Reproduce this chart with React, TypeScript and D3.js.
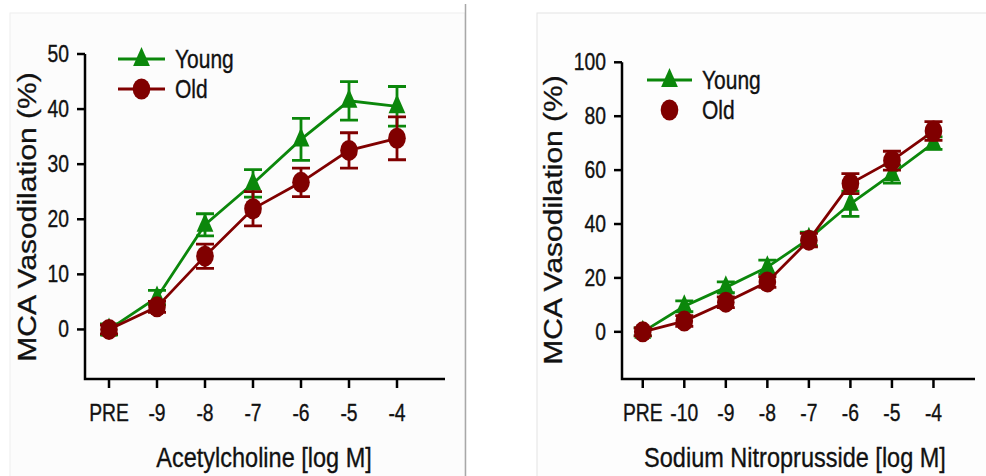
import React, { useEffect, useRef } from 'react';
import * as d3 from 'd3';

// the source figure is squeezed horizontally, so text and markers get this x-scale
const SX = 0.84;
const FONT = '"Liberation Sans", Arial, sans-serif';
const GREEN = '#0b870b';
const RED = '#800000';

// Acetylcholine panel
const achLabels = ['PRE', '-9', '-8', '-7', '-6', '-5', '-4'];
const achYoung = [0, 5.8, 19, 26.5, 34.5, 41.5, 40.5];
const achYoungErr = [1, 1.3, 2, 2.5, 3.8, 3.5, 3.6];
const achOld = [0, 4.1, 13.3, 21.9, 26.7, 32.5, 34.7];
const achOldErr = [0.8, 1, 2.2, 3.1, 2.6, 3.2, 3.9];
const achTicks = [0, 10, 20, 30, 40, 50];

// Sodium nitroprusside panel
const snpLabels = ['PRE', '-10', '-9', '-8', '-7', '-6', '-5', '-4'];
const snpYoung = [0, 9.5, 16.5, 24, 34.5, 47.5, 58.5, 70];
const snpYoungErr = [1.5, 2, 2, 2.6, 2.5, 4.7, 3.3, 2.3];
const snpOld = [0, 4, 11, 18.5, 34, 55, 63.5, 74.5];
const snpOldErr = [1.5, 2, 2, 2, 2.5, 3.7, 3.5, 3.5];
const snpTicks = [0, 20, 40, 60, 80, 100];

const txt = (sel) => sel.attr('fill', '#111').attr('stroke', '#111').attr('stroke-width', 0.35);

const drawPanel = (root, cfg) => {
  const { labels, young, youngErr, old, oldErr, ticks } = cfg;
  const x = d3.scaleLinear().domain(cfg.xDomain).range(cfg.xRange);
  const y = d3.scaleLinear().domain(cfg.yDomain).range([379, cfg.yTop]);
  const g = root.append('g');
  const x0 = cfg.xRange[0];

  // axes
  g.append('path')
    .attr('d', `M${x0},${y(ticks[ticks.length - 1])}V${y(cfg.yDomain[0])}H${cfg.xRange[1]}`)
    .attr('fill', 'none')
    .attr('stroke', '#000')
    .attr('stroke-width', 2.5);

  ticks.forEach((t) => {
    g.append('line')
      .attr('x1', x0 - 8).attr('x2', x0)
      .attr('y1', y(t)).attr('y2', y(t))
      .attr('stroke', '#000').attr('stroke-width', 2.5);
    g.append('text')
      .attr('transform', `translate(${x0 - 16},${y(t)}) scale(${SX},1)`)
      .attr('dy', '0.35em')
      .attr('text-anchor', 'end')
      .style('font-size', '23px')
      .text(t)
      .call(txt);
  });

  labels.forEach((l, i) => {
    g.append('line')
      .attr('x1', x(i)).attr('x2', x(i))
      .attr('y1', 379).attr('y2', 388)
      .attr('stroke', '#000').attr('stroke-width', 2.5);
    g.append('text')
      .attr('transform', `translate(${x(i)},421) scale(${SX},1)`)
      .attr('text-anchor', 'middle')
      .style('font-size', '23px')
      .text(l)
      .call(txt);
  });

  // titles
  g.append('text')
    .attr('transform', `translate(${cfg.yLabelX},${cfg.yLabelY}) scale(${SX},1) rotate(-90)`)
    .attr('text-anchor', 'middle')
    .attr('dy', '0.35em')
    .style('font-size', '30px')
    .text('MCA Vasodilation (%)')
    .call(txt);
  g.append('text')
    .attr('transform', `translate(${cfg.xTitleX},467) scale(${SX},1)`)
    .attr('text-anchor', 'middle')
    .style('font-size', '28px')
    .text(cfg.xTitle)
    .call(txt);

  const triangle = 'M0,-12L10,7L-10,7Z';
  const series = [
    { vals: young, errs: youngErr, color: GREEN, tri: true },
    { vals: old, errs: oldErr, color: RED, tri: false },
  ];

  series.forEach((s) => {
    s.vals.forEach((v, i) => {
      const hi = y(v + s.errs[i]);
      const lo = y(v - s.errs[i]);
      g.append('path')
        .attr('d', `M${x(i)},${hi}V${lo}M${x(i) - 9},${hi}H${x(i) + 9}M${x(i) - 9},${lo}H${x(i) + 9}`)
        .attr('stroke', s.color)
        .attr('stroke-width', 2.8)
        .attr('fill', 'none');
    });
    const line = d3.line().x((d, i) => x(i)).y((d) => y(d));
    g.append('path')
      .attr('d', line(s.vals))
      .attr('fill', 'none')
      .attr('stroke', s.color)
      .attr('stroke-width', 2.8);
    s.vals.forEach((v, i) => {
      if (s.tri) {
        g.append('path')
          .attr('d', triangle)
          .attr('transform', `translate(${x(i)},${y(v)}) scale(${SX},1)`)
          .attr('fill', s.color);
      } else {
        g.append('ellipse')
          .attr('cx', x(i)).attr('cy', y(v))
          .attr('rx', 10.5 * SX).attr('ry', 10.5)
          .attr('fill', s.color);
      }
    });
  });

  // legend
  const lg = cfg.legend;
  g.append('line')
    .attr('x1', lg.x1).attr('x2', lg.x2)
    .attr('y1', lg.y).attr('y2', lg.y)
    .attr('stroke', GREEN).attr('stroke-width', 2.8);
  g.append('path')
    .attr('d', triangle)
    .attr('transform', `translate(${(lg.x1 + lg.x2) / 2},${lg.y}) scale(${SX},1)`)
    .attr('fill', GREEN);
  if (lg.oldLine) {
    g.append('line')
      .attr('x1', lg.x1).attr('x2', lg.x2)
      .attr('y1', lg.y + lg.gap).attr('y2', lg.y + lg.gap)
      .attr('stroke', RED).attr('stroke-width', 2.8);
  }
  g.append('ellipse')
    .attr('cx', (lg.x1 + lg.x2) / 2).attr('cy', lg.y + lg.gap)
    .attr('rx', 10.5 * SX).attr('ry', 10.5)
    .attr('fill', RED);
  ['Young', 'Old'].forEach((t, i) => {
    g.append('text')
      .attr('transform', `translate(${lg.tx},${lg.y + i * lg.gap}) scale(${SX},1)`)
      .attr('dy', '0.35em')
      .style('font-size', '25px')
      .text(t)
      .call(txt);
  });
};

export default function App() {
  const svgRef = useRef(null);

  useEffect(() => {
    const svg = d3.select(svgRef.current);
    svg.selectAll('*').remove();
    svg.style('font-family', FONT);

    // panel backgrounds
    svg.append('rect')
      .attr('x', 10).attr('y', 13).attr('width', 455).attr('height', 470)
      .attr('fill', '#fcfcfc').attr('stroke', '#eeeeee');
    svg.append('rect')
      .attr('x', 537).attr('y', 13).attr('width', 460).attr('height', 470)
      .attr('fill', '#fdfdfd').attr('stroke', '#e4e4e4');
    svg.append('line')
      .attr('x1', 465.5).attr('x2', 465.5).attr('y1', 4).attr('y2', 476)
      .attr('stroke', '#a8a8a8').attr('stroke-width', 1.5);

    drawPanel(svg, {
      labels: achLabels, young: achYoung, youngErr: achYoungErr,
      old: achOld, oldErr: achOldErr, ticks: achTicks,
      xDomain: [-0.5, 7], xRange: [85, 445],
      yDomain: [-9, 50], yTop: 54,
      yLabelX: 27, yLabelY: 217,
      xTitle: 'Acetylcholine [log M]', xTitleX: 264,
      legend: { x1: 118, x2: 165, y: 59, gap: 30, tx: 175, oldLine: true },
    });
    drawPanel(svg, {
      labels: snpLabels, young: snpYoung, youngErr: snpYoungErr,
      old: snpOld, oldErr: snpOldErr, ticks: snpTicks,
      xDomain: [-0.5, 8], xRange: [622, 975],
      yDomain: [-17.5, 100], yTop: 62.3,
      yLabelX: 553, yLabelY: 220,
      xTitle: 'Sodium Nitroprusside [log M]', xTitleX: 795,
      legend: { x1: 647, x2: 692, y: 80, gap: 30, tx: 702, oldLine: false },
    });
  }, []);

  return (
    <svg
      ref={svgRef}
      width={986}
      height={476}
      style={{ position: 'absolute', left: 0, top: 0, background: '#fff' }}
    />
  );
}
